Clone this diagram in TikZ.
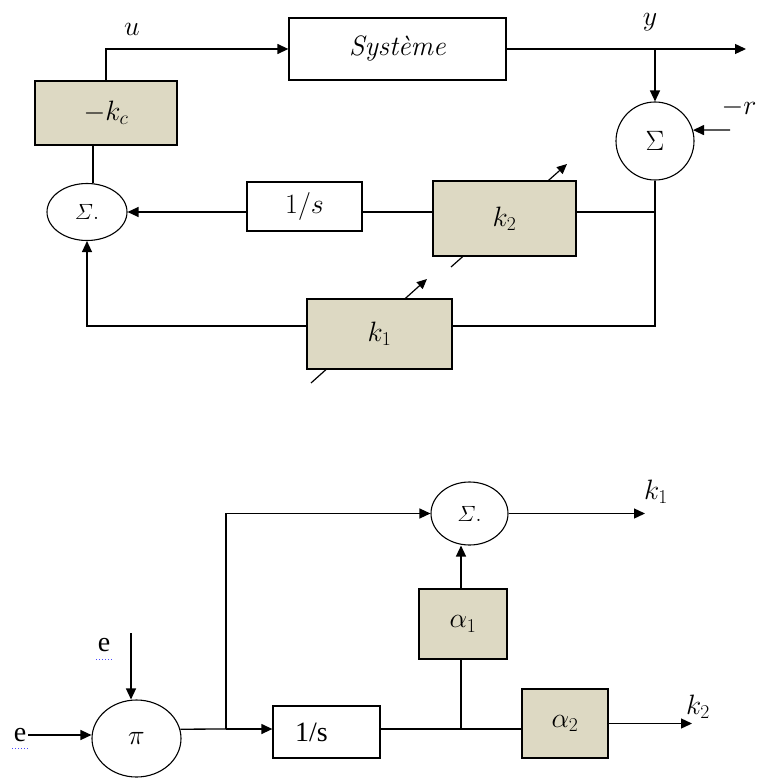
\RequirePackage{fix-cm}
\documentclass[tikz,border=0pt]{standalone}
\usepackage{amsmath}
\usepackage{fontspec}
\newfontfamily\tnr{Liberation Serif}
\usetikzlibrary{arrows.meta,shapes.geometric}
\definecolor{tanfill}{RGB}{221,217,195}
\begin{document}
\begin{tikzpicture}[x=1pt,y=-1pt,
  every node/.style={font=\fontsize{28}{32}\selectfont},
  blk/.style={draw,line width=1.3pt,rectangle,inner sep=0pt},
  gain/.style={blk,fill=tanfill},
  sumc/.style={draw,line width=1.1pt,circle,inner sep=0pt,minimum size=78pt},
  sume/.style={draw,line width=1.1pt,ellipse,inner sep=0pt},
  wire/.style={line width=1.3pt},
  arr/.style={wire,-{Triangle[length=11pt,width=10pt]}},
  diag/.style={line width=1.2pt,-{Triangle[length=10pt,width=9pt]}},
  lbl/.style={inner sep=0pt},
  smalls/.style={font=\fontsize{22}{26}\selectfont}]
\useasboundingbox (0,0) rectangle (758,778);
% variable gain arrows (drawn first, boxes hide their middle)
\coordinate (d1a) at (311,383); \coordinate (d1b) at (427,279);
\coordinate (d2a) at (451,267); \coordinate (d2b) at (567,164);
\draw[diag] (d1a) -- (d1b);
\draw[diag] (d2a) -- (d2b);
% top diagram
\node[blk,minimum width=217pt,minimum height=62pt] (sys) at (397.5,49) {\textit{Système}};
\node[gain,minimum width=142pt,minimum height=64pt] (kc) at (106,113) {$-k_c$};
\node[sume,minimum width=80pt,minimum height=57pt,smalls] (s1) at (87,212) {$\varSigma.$};
\node[blk,minimum width=115pt,minimum height=49pt] (i1) at (304.5,206.5) {$1/s$};
\node[gain,minimum width=143pt,minimum height=75pt] (k2) at (504.5,218.5) {$k_2$};
\node[sumc] (s2) at (655,141) {$\Sigma$};
\node[gain,minimum width=145pt,minimum height=70pt] (k1) at (379.5,334) {$k_1$};
\node[lbl] (ul) at (132,29) {$u$};
\node[lbl] (yl) at (650,22) {$y$};
\node[lbl] (rl) at (739,108) {$-r$};
\coordinate (yout) at (746,49);
\coordinate (yj) at (s2.north |- sys.east);
\coordinate (rin) at (730,130);
\coordinate (fb) at (655,326);
\draw[arr] (kc.north) |- (sys.west);
\draw[wire] ([xshift=-13pt]kc.south) -- ([xshift=-13pt]kc.south |- s1.north);
\draw[arr] (sys.east) -- (yout);
\draw[arr] (yj) -- (s2.north);
\draw[arr] (rin) -- (s2.16);
\draw[wire] (s2.south) -- (fb) -- (k1.east |- fb);
\draw[wire] (k2.east |- s1.east) -- (s2.south |- s1.east);
\draw[wire] (k2.west |- s1.east) -- (i1.east |- s1.east);
\draw[arr] (i1.west |- s1.east) -- (s1.east);
\draw[arr] (k1.west |- fb) -| (s1.south);
% bottom diagram
\node[sume,minimum width=89pt,minimum height=77pt] (pi) at (136.5,738.5) {$\pi$};
\node[blk,minimum width=107pt,minimum height=52pt] (i2) at (326.5,732) {\tnr 1/s\hspace*{30pt}};
\node[sume,minimum width=77pt,minimum height=63pt,smalls] (s3) at (469.5,513.5) {$\varSigma.$};
\node[gain,minimum width=88pt,minimum height=70pt] (a1) at (463,624) {$\alpha_1$};
\node[gain,minimum width=86pt,minimum height=69pt] (a2) at (565,723.5) {$\alpha_2$};
\node[lbl] (eL) at (20,735) {\tnr e};
\node[lbl] (eT) at (104,645) {\tnr e};
\node[lbl] (k1l) at (656,492) {$k_1$};
\node[lbl] (k2l) at (698,707) {$k_2$};
\draw[blue!70,dotted,line width=1pt] (12,748) -- (29,748);
\draw[blue!70,dotted,line width=1pt] (96,659) -- (113,659);
\coordinate (j1) at (226,729);
\coordinate (j2) at (461,729);
\coordinate (eTs) at (131,633);
\coordinate (k1o) at (645,513.5);
\coordinate (k2o) at (692,723.5);
\draw[arr] ([xshift=2pt]eL.east) -- (pi.west |- eL.east);
\draw[arr] (eTs) -- (eTs |- pi.north);
\draw[wire] (pi.12.5) -- (j1);
\draw[arr] (j1) -- (i2.west |- j1);
\draw[arr] (j1) |- (s3.west);
\draw[wire] (i2.east |- j1) -- (a2.west |- j1);
\draw[wire] (j2) -- (j2 |- a1.south);
\draw[arr] (j2 |- a1.north) -- (j2 |- s3.south);
\draw[arr] (s3.east) -- (k1o);
\draw[arr] (a2.east) -- (k2o);
\end{tikzpicture}
\end{document}
